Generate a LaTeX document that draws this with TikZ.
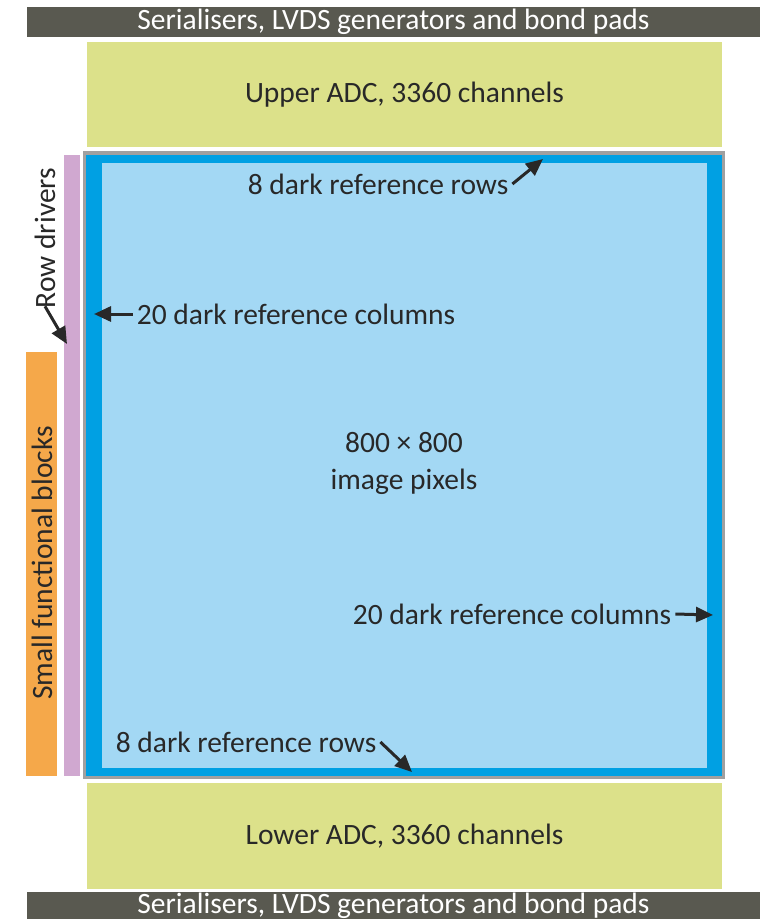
\documentclass[tikz,border=0pt]{standalone}
\usepackage{fontspec}
\setmainfont{Carlito}
\usetikzlibrary{arrows.meta, positioning}
\usepackage{xcolor}

\definecolor{padgray}{RGB}{89,89,80}
\definecolor{adcgreen}{RGB}{220,225,138}
\definecolor{pixlight}{RGB}{163,216,244}
\definecolor{pixdark}{RGB}{0,160,227}
\definecolor{framegray}{RGB}{160,160,160}
\definecolor{drvpurple}{RGB}{208,168,208}
\definecolor{blkorange}{RGB}{245,168,74}
\definecolor{inkdark}{RGB}{40,40,40}

\begin{document}
\begin{tikzpicture}[x=1pt, y=-1pt,
        lbl/.style={text=inkdark, inner sep=1pt, font=\fontsize{29.5}{37}\selectfont},
        block/.style={inner sep=0pt, text=inkdark, font=\fontsize{29.5}{37}\selectfont},
        ptr/.style={-{Triangle[length=17pt,width=15pt]}, line width=3pt, inkdark}]
        % Canvas
        \useasboundingbox (0,0) rectangle (764,919);

        % Bond pad strips
        \node[block, fill=padgray, text=white, minimum width=733pt, minimum height=30pt] (padstop) at (393.5,22) {Serialisers, LVDS generators and bond pads};
        \node[block, fill=padgray, text=white, minimum width=733pt, minimum height=27pt] (padsbot) at (393.5,905.5) {Serialisers, LVDS generators and bond pads};

        % ADC blocks
        \node[block, fill=adcgreen, minimum width=635pt, minimum height=105pt] (adcup) at (404.5,94.5) {Upper ADC, 3360 channels};
        \node[block, fill=adcgreen, minimum width=635pt, minimum height=106pt] (adclow) at (404.5,836) {Lower ADC, 3360 channels};

        % Pixel array with dark reference border
        \fill[framegray] (83,151) rectangle (725,779);
        \fill[pixdark] (86,155) rectangle (722,776);
        \fill[pixlight] (102,163) rectangle (707,768);

        % Row drivers and small functional blocks
        \fill[drvpurple] (64,155) rectangle (80,776);
        \fill[blkorange] (26,352) rectangle (57,776);

        % Labels
        \node[lbl, align=center] (pixels) at (404,463) {800 × 800\\image pixels};
        \node[lbl] (toprows) at (378,184) {8 dark reference rows};
        \node[lbl] (leftcols) at (296,314) {20 dark reference columns};
        \node[lbl] (rightcols) at (512,614) {20 dark reference columns};
        \node[lbl] (botrows) at (246,742) {8 dark reference rows};
        \node[lbl, rotate=90] (rowdrv) at (45,238) {Row drivers};
        \node[lbl, rotate=90] (smallblk) at (42,563) {Small functional blocks};

        % Pointer arrows
        \coordinate (toprowstip) at (543,159);
        \coordinate (leftcolstip) at (94,314);
        \coordinate (rightcolstip) at (713,615);
        \coordinate (botrowstip) at (412,772);
        \coordinate (rowdrvtip) at (67,344);
        \draw[ptr] ([xshift=3pt]toprows.east) -- (toprowstip);
        \draw[ptr] ([xshift=-3pt]leftcols.west) -- (leftcolstip);
        \draw[ptr] ([xshift=3pt]rightcols.east) -- (rightcolstip);
        \draw[ptr] ([xshift=3pt]botrows.east) -- (botrowstip);
        \draw[ptr] ([yshift=3pt]rowdrv.west) -- (rowdrvtip);
\end{tikzpicture}
\end{document}
